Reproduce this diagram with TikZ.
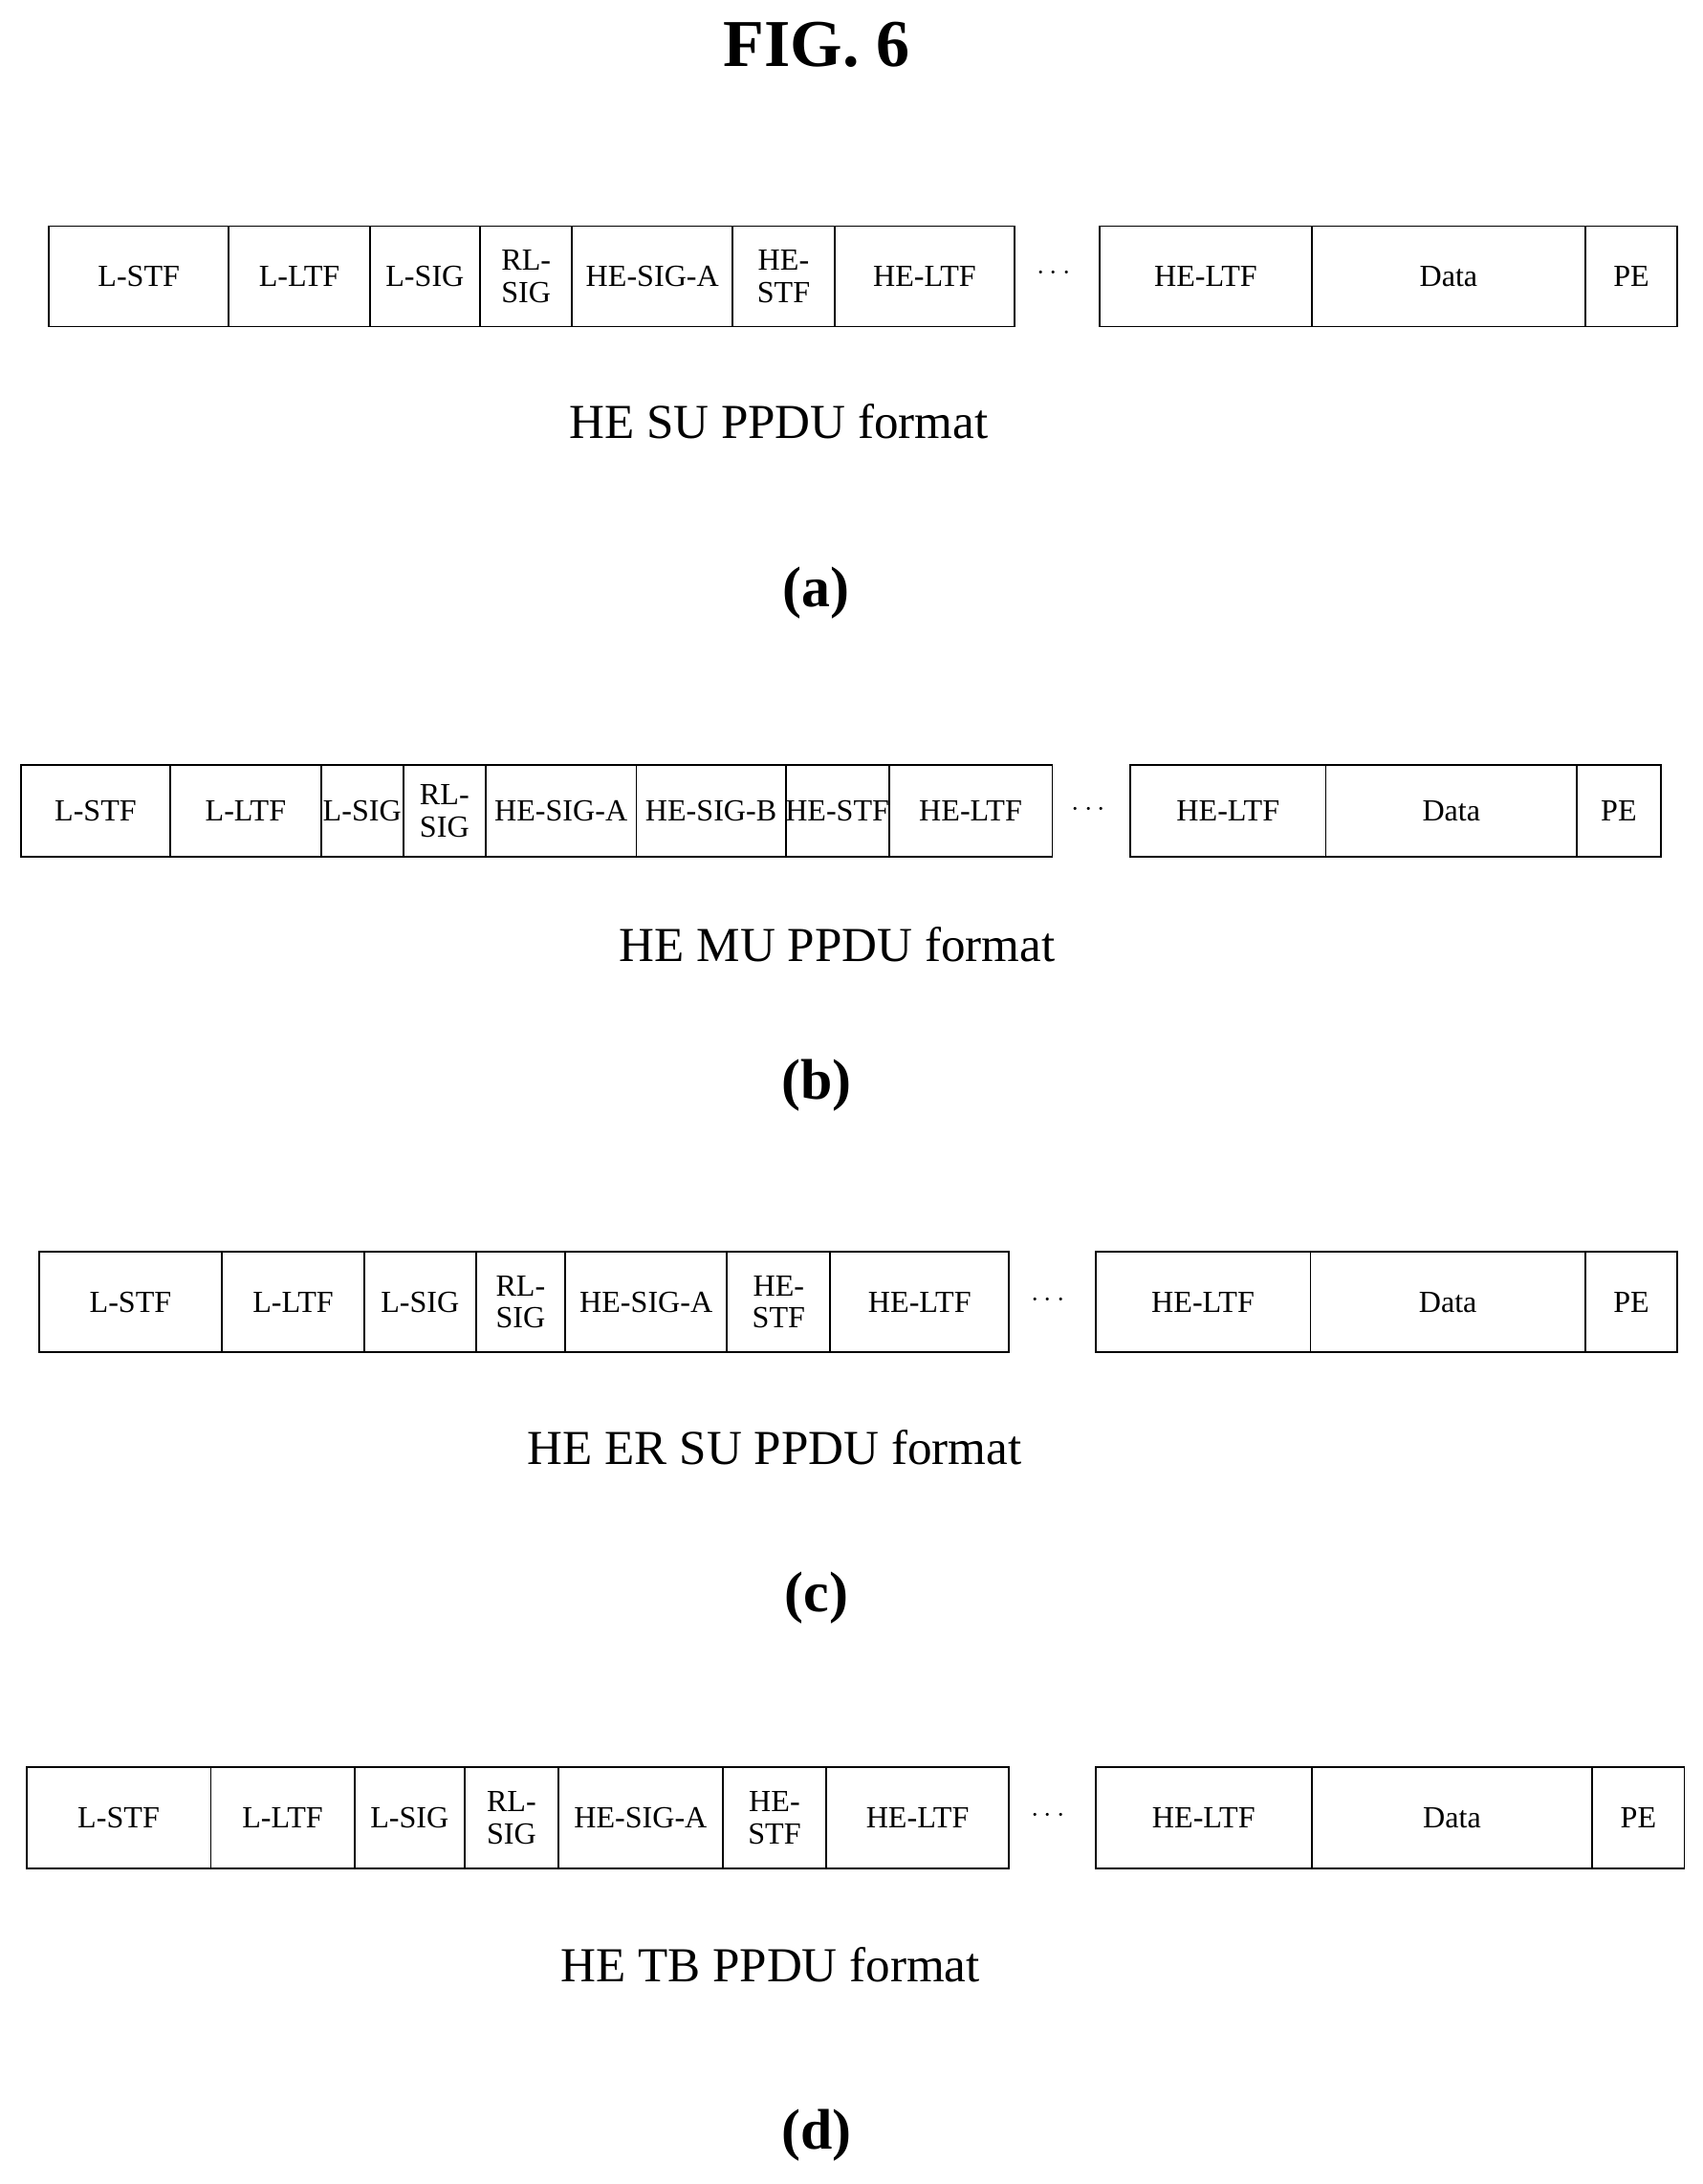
\documentclass[tikz,border=0pt]{standalone}
\usepackage{fontspec}
\setmainfont{Liberation Serif}
\tikzset{cell/.style={draw,line width=1.2pt},
 lab/.style={font=\fontsize{22}{23}\selectfont,align=center,inner sep=1pt},
 captxt/.style={font=\fontsize{35}{37}\selectfont},
 sub/.style={font=\bfseries\fontsize{41}{43}\selectfont}}
\newcommand{\prow}[4]{%
 \foreach \a/\b/\t [count=\i] in {#3}{
  \draw[cell] (\a,#1) rectangle (\b,#2) node[midway,lab] (#4\i) {\t};}}
\begin{document}
\begin{tikzpicture}[x=1pt,y=-1pt]
\useasboundingbox (0,0) rectangle (1220,1565);
\node[font=\bfseries\fontsize{48}{50}\selectfont] (title) at (585,32) {FIG. 6};
% (a)
\prow{162}{234}{35/164/L-STF,164/265/L-LTF,265/344/L-SIG,344/410/{RL-\\SIG},410/525/HE-SIG-A,525/598/{HE-\\STF},598/727/HE-LTF,788/940/HE-LTF,940/1136/Data,1136/1202/PE}{a}
\node[lab] (da) at (755,196) {$\cdots$};
\node[captxt] (ca) at (558,302) {HE SU PPDU format};
\node[sub] (la) at (585,425) {(a)};
% (b)
\prow{548}{614}{15/122/L-STF,122/230/L-LTF,230/289/L-SIG,289/348/{RL-\\SIG},348/456/HE-SIG-A,456/563/HE-SIG-B,563/637/HE-STF,637/754/HE-LTF,810/950/HE-LTF,950/1130/Data,1130/1190/PE}{b}
\node[lab] (db) at (780,580) {$\cdots$};
\node[captxt] (cb) at (600,677) {HE MU PPDU format};
\node[sub] (lb) at (585,778) {(b)};
% (c)
\prow{897}{969}{28/159/L-STF,159/261/L-LTF,261/341/L-SIG,341/405/{RL-\\SIG},405/521/HE-SIG-A,521/595/{HE-\\STF},595/723/HE-LTF,785/939/HE-LTF,939/1136/Data,1136/1202/PE}{c}
\node[lab] (dc) at (751,932) {$\cdots$};
\node[captxt] (cc) at (555,1037) {HE ER SU PPDU format};
\node[sub] (lc) at (585,1145) {(c)};
% (d)
\prow{1266}{1339}{19/151/L-STF,151/254/L-LTF,254/333/L-SIG,333/400/{RL-\\SIG},400/518/HE-SIG-A,518/592/{HE-\\STF},592/723/HE-LTF,785/940/HE-LTF,940/1141/Data,1141/1207/PE}{d}
\node[lab] (dd) at (751,1301) {$\cdots$};
\node[captxt] (cd) at (552,1408) {HE TB PPDU format};
\node[sub] (ld) at (585,1530) {(d)};
\end{tikzpicture}
\end{document}
